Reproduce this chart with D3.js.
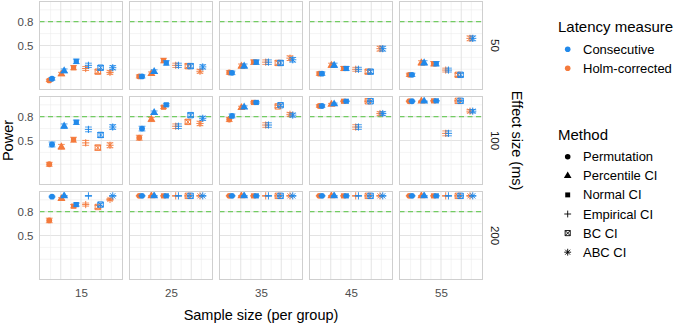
<!DOCTYPE html>
<html>
<head>
<meta charset="utf-8">
<script src="https://cdn.jsdelivr.net/npm/d3@7"></script>
<style>
  body { margin: 0; background: #fff; }
  text { font-family: "Liberation Sans", Arial, sans-serif; }
</style>
</head>
<body>
<svg id="chart" width="676" height="324"></svg>
<script>
/* Data */
var sampleSizes = [15, 25, 35, 45, 55];
var effectSizes = [50, 100, 200];
var methods = ["Permutation", "Percentile CI", "Normal CI", "Empirical CI", "BC CI", "ABC CI"];
var measures = ["Consecutive", "Holm-corrected"];
var powerTicks = [0.5, 0.8];

// power, one row per sample size, one column per method
var consecutive50 = [
    [0.08, 0.18, 0.30, 0.25, 0.22, 0.22],
    [0.11, 0.17, 0.28, 0.25, 0.24, 0.23],
    [0.155, 0.24, 0.29, 0.29, 0.28, 0.32],
    [0.145, 0.25, 0.21, 0.20, 0.17, 0.46],
    [0.13, 0.28, 0.27, 0.19, 0.13, 0.59]
];
var holm50 = [
    [0.06, 0.14, 0.22, 0.21, 0.17, 0.16],
    [0.11, 0.145, 0.31, 0.25, 0.24, 0.175],
    [0.16, 0.24, 0.29, 0.29, 0.28, 0.34],
    [0.145, 0.25, 0.21, 0.20, 0.17, 0.46],
    [0.13, 0.28, 0.27, 0.19, 0.13, 0.59]
];
var consecutive100 = [
    [0.45, 0.68, 0.73, 0.64, 0.57, 0.67],
    [0.65, 0.85, 0.95, 0.68, 0.82, 0.78],
    [0.81, 0.92, 0.98, 0.695, 0.945, 0.82],
    [0.935, 0.96, 0.995, 0.67, 0.995, 0.84],
    [0.995, 0.995, 1.0, 0.59, 1.0, 0.87]
];
var holm100 = [
    [0.20, 0.42, 0.51, 0.47, 0.41, 0.44],
    [0.535, 0.765, 0.92, 0.68, 0.735, 0.715],
    [0.765, 0.915, 0.98, 0.695, 0.93, 0.83],
    [0.935, 0.955, 0.995, 0.67, 0.995, 0.84],
    [0.995, 0.995, 1.0, 0.59, 1.0, 0.87]
];
var consecutive200 = [
    [0.99, 1.0, 0.89, 1.0, 0.89, 1.0],
    [1.0, 1.0, 1.0, 1.0, 1.0, 1.0],
    [1.0, 1.0, 1.0, 1.0, 1.0, 1.0],
    [1.0, 1.0, 1.0, 1.0, 1.0, 1.0],
    [1.0, 1.0, 1.0, 1.0, 1.0, 1.0]
];
var holm200 = [
    [0.69, 0.965, 0.87, 0.89, 0.86, 0.955],
    [1.0, 1.0, 1.0, 1.0, 1.0, 1.0],
    [1.0, 1.0, 1.0, 1.0, 1.0, 1.0],
    [1.0, 1.0, 1.0, 1.0, 1.0, 1.0],
    [1.0, 1.0, 1.0, 1.0, 1.0, 1.0]
];
// number of simulated data sets behind each power estimate (for the binomial CI)
var nSim = 1000;

var powerTables = {
    "Consecutive": {50: consecutive50, 100: consecutive100, 200: consecutive200},
    "Holm-corrected": {50: holm50, 100: holm100, 200: holm200}
};

/* Layout */
var panelLeft = 39.5, panelTop = 1.5, panelW = 83, panelH = 88, gapX = 7, gapY = 7;
var colors = {"Consecutive": "#2189ea", "Holm-corrected": "#f47a3c"};
var methodOffset = d3.scaleLinear().domain([0, methods.length - 1]).range([-1.5, 1.5]);
var dodge = {"Consecutive": 0.068, "Holm-corrected": -0.068};

var svg = d3.select("#chart");

// flatten into one record per point
var points = [];
measures.forEach(function (m) {
    effectSizes.forEach(function (e, ri) {
        sampleSizes.forEach(function (n, ci) {
            methods.forEach(function (meth, mi) {
                points.push({measure: m, effect: e, row: ri, n: n, col: ci, method: meth, mi: mi,
                             power: powerTables[m][e][ci][mi]});
            });
        });
    });
});

function xScaleFor(ci) {
    var n = sampleSizes[ci];
    var left = panelLeft + ci * (panelW + gapX);
    return d3.scaleLinear().domain([n - 2.05, n + 2.05]).range([left, left + panelW]);
}
function yScaleFor(ri) {
    var top = panelTop + ri * (panelH + gapY);
    return d3.scaleLinear().domain([-0.055, 1.055]).range([top + panelH, top]);
}

// shapes (ggplot 16, 17, 15, 3, 7, 8)
function shapePath(method, s) {
    var p = d3.path();
    s = s || 1;
    if (method === "Permutation") return d3.symbol(d3.symbolCircle, 27 * s * s)();
    if (method === "Percentile CI") return d3.symbol(d3.symbolTriangle, 28 * s * s)();
    if (method === "Normal CI") return d3.symbol(d3.symbolSquare, 27 * s * s)();
    if (method === "Empirical CI") {
        var a = 3.6 * s;
        p.moveTo(-a, 0); p.lineTo(a, 0); p.moveTo(0, -a); p.lineTo(0, a);
        return p.toString();
    }
    if (method === "BC CI") {
        var b = 2.7 * s;
        p.rect(-b, -b, 2 * b, 2 * b);
        p.moveTo(-b, -b); p.lineTo(b, b); p.moveTo(-b, b); p.lineTo(b, -b);
        return p.toString();
    }
    var c = 3.6 * s, d = 2.6 * s;
    p.moveTo(-c, 0); p.lineTo(c, 0); p.moveTo(0, -c); p.lineTo(0, c);
    p.moveTo(-d, -d); p.lineTo(d, d); p.moveTo(-d, d); p.lineTo(d, -d);
    return p.toString();
}
function isFilled(method) { return methods.indexOf(method) < 3; }

/* Panels */
effectSizes.forEach(function (e, ri) {
    var y = yScaleFor(ri);
    sampleSizes.forEach(function (n, ci) {
        var x = xScaleFor(ci);
        var g = svg.append("g").attr("class", "panel");
        var x0 = x.range()[0], x1 = x.range()[1], y0 = y.range()[1], y1 = y.range()[0];

        g.append("rect").attr("x", x0).attr("y", y0).attr("width", panelW).attr("height", panelH)
            .attr("fill", "#fff");

        // minor + major horizontal grid
        g.selectAll(".hgrid").data([0.2, 0.35, 0.5, 0.65, 0.8, 0.95]).enter().append("line")
            .attr("x1", x0).attr("x2", x1)
            .attr("y1", function (d) { return y(d); }).attr("y2", function (d) { return y(d); })
            .attr("stroke", function (d) { return powerTicks.indexOf(d) >= 0 ? "#e3e3e3" : "#ececec"; })
            .attr("stroke-width", function (d) { return powerTicks.indexOf(d) >= 0 ? 1 : 0.6; });

        // vertical grid
        g.selectAll(".vgrid").data(d3.range(n - 1.5, n + 1.6, 0.5)).enter().append("line")
            .attr("y1", y0).attr("y2", y1)
            .attr("x1", function (d) { return x(d); }).attr("x2", function (d) { return x(d); })
            .attr("stroke", function (d, i) { return i % 2 === 0 ? "#ececec" : "#e3e3e3"; })
            .attr("stroke-width", function (d, i) { return i % 2 === 0 ? 0.6 : 1; });

        // target power
        g.append("line").attr("x1", x0).attr("x2", x1).attr("y1", y(0.8)).attr("y2", y(0.8))
            .attr("stroke", "#55c43f").attr("stroke-width", 1).attr("stroke-dasharray", "5,3.5");

        var pts = points.filter(function (p) { return p.row === ri && p.col === ci; })
            .sort(function (a, b) { return a.measure === "Consecutive" ? 1 : -1; });
        function px(p) { return x(n + methodOffset(p.mi) + dodge[p.measure]); }
        function half(p) { return 1.96 * Math.sqrt(p.power * (1 - p.power) / nSim); }

        var pg = g.selectAll(".pt").data(pts).enter().append("g").attr("class", "pt");
        pg.append("path")
            .attr("d", function (p) {
                var cx = px(p), hw = 3.4, lo = y(p.power - half(p)), hi = y(Math.min(1, p.power + half(p)));
                return "M" + (cx - hw) + "," + hi + "H" + (cx + hw) + "M" + cx + "," + hi + "V" + lo +
                       "M" + (cx - hw) + "," + lo + "H" + (cx + hw);
            })
            .attr("fill", "none").attr("stroke", function (p) { return colors[p.measure]; })
            .attr("stroke-width", 0.8);
        pg.append("path")
            .attr("d", function (p) { return shapePath(p.method); })
            .attr("transform", function (p) { return "translate(" + px(p) + "," + y(p.power) + ")"; })
            .attr("fill", function (p) { return isFilled(p.method) ? colors[p.measure] : "none"; })
            .attr("stroke", function (p) { return isFilled(p.method) ? "none" : colors[p.measure]; })
            .attr("stroke-width", 0.95);

        g.append("rect").attr("x", x0).attr("y", y0).attr("width", panelW).attr("height", panelH)
            .attr("fill", "none").attr("stroke", "#cfcfcf").attr("stroke-width", 1);

        // axes on the outer panels only
        if (ci === 0) {
            var ya = g.append("g").attr("transform", "translate(" + x0 + ",0)")
                .call(d3.axisLeft(y).tickValues(powerTicks).tickSize(0).tickPadding(6));
            ya.select(".domain").remove();
            ya.selectAll("text").attr("font-size", 11.5).attr("fill", "#4d4d4d")
                .attr("font-family", "Liberation Sans, Arial, sans-serif");
        }
        if (ri === effectSizes.length - 1) {
            var xa = g.append("g").attr("transform", "translate(0," + y1 + ")")
                .call(d3.axisBottom(x).tickValues([n]).tickFormat(d3.format("d")).tickSize(0).tickPadding(9));
            xa.select(".domain").remove();
            xa.selectAll("text").attr("font-size", 11.5).attr("fill", "#4d4d4d")
                .attr("font-family", "Liberation Sans, Arial, sans-serif");
        }
    });

    // row strip label
    var ym = (y.range()[0] + y.range()[1]) / 2;
    svg.append("text").attr("transform", "translate(491," + ym + ") rotate(90)")
        .attr("text-anchor", "middle").attr("font-size", 11.5).attr("fill", "#1a1a1a").text(e);
});

/* Axis titles */
var midY = panelTop + (3 * panelH + 2 * gapY) / 2;
var midX = panelLeft + (5 * panelW + 4 * gapX) / 2;
svg.append("text").attr("transform", "translate(13," + midY + ") rotate(-90)")
    .attr("text-anchor", "middle").attr("font-size", 14.5).attr("fill", "#000").text("Power");
svg.append("text").attr("transform", "translate(512," + midY + ") rotate(90)")
    .attr("text-anchor", "middle").attr("font-size", 14.5).attr("fill", "#000").text("Effect size (ms)");
svg.append("text").attr("x", midX).attr("y", 320)
    .attr("text-anchor", "middle").attr("font-size", 14.5).attr("fill", "#000").text("Sample size (per group)");

/* Legends */
var legX = 558, keyX = 567.7, labX = 583;
svg.append("text").attr("x", legX).attr("y", 31.5).attr("font-size", 15).text("Latency measure");
var lm = svg.selectAll(".lm").data(measures).enter().append("g")
    .attr("transform", function (d, i) { return "translate(0," + (49.3 + i * 19) + ")"; });
lm.append("circle").attr("cx", keyX).attr("r", 2.8).attr("fill", function (d) { return colors[d]; });
lm.append("text").attr("x", labX).attr("y", 4.5).attr("font-size", 13).text(function (d) { return d; });

svg.append("text").attr("x", legX).attr("y", 140).attr("font-size", 15).text("Method");
var mm = svg.selectAll(".mm").data(methods).enter().append("g")
    .attr("transform", function (d, i) { return "translate(0," + (156.7 + i * 19.1) + ")"; });
mm.append("path").attr("transform", "translate(" + keyX + ",0)")
    .attr("d", function (d) { return shapePath(d, 0.95); })
    .attr("fill", function (d) { return isFilled(d) ? "#000" : "none"; })
    .attr("stroke", function (d) { return isFilled(d) ? "none" : "#000"; })
    .attr("stroke-width", 0.9);
mm.append("text").attr("x", labX).attr("y", 4.5).attr("font-size", 13).text(function (d) { return d; });
</script>
</body>
</html>
